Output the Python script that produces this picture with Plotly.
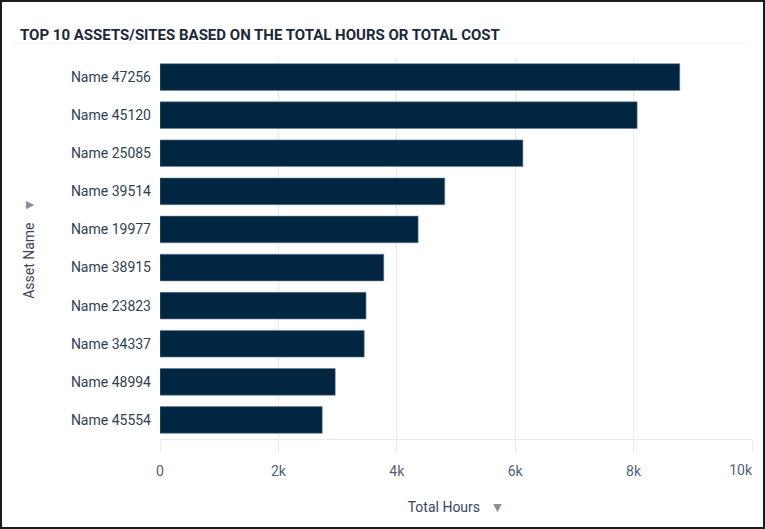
import plotly.graph_objects as go

# Data (top asset first)
asset_names = [
    "Name 47256",
    "Name 45120",
    "Name 25085",
    "Name 39514",
    "Name 19977",
    "Name 38915",
    "Name 23823",
    "Name 34337",
    "Name 48994",
    "Name 45554",
]
total_hours = [8780, 8060, 6130, 4810, 4360, 3780, 3480, 3450, 2960, 2740]

x_tick_values = [0, 2000, 4000, 6000, 8000, 10000]
x_tick_labels = ["0", "2k", "4k", "6k", "8k", "10k"]

TITLE = "TOP 10 ASSETS/SITES BASED ON THE TOTAL HOURS OR TOTAL COST"
BAR_COLOR = "#012641"
GRID_COLOR = "#e6e9ee"
TEXT_COLOR = "#34475a"
TICK_COLOR = "#4f6275"
FONT = "Roboto, Arial, sans-serif"
ARROW = '<span style="color:#8a8f96;font-size:14px">▼</span>'

WIDTH, HEIGHT = 765, 529
MARGIN = dict(l=160, r=13, t=58, b=90)
X_RANGE = [0, 10000]


def top_assets_chart() -> go.Figure:
    """
    Horizontal bar chart of the top 10 assets by total hours.

    Returns:
        Plotly figure object.
    """
    fig = go.Figure(
        go.Bar(
            x=total_hours,
            y=asset_names,
            orientation="h",
            marker=dict(color=BAR_COLOR, line=dict(color="#6d8096", width=0.6)),
            hoverinfo="x+y",
        )
    )

    # Plot area size in px, used to place decorations outside the paper
    pw = WIDTH - MARGIN["l"] - MARGIN["r"]
    ph = HEIGHT - MARGIN["t"] - MARGIN["b"]

    # the last label sits flush with the right edge: it is drawn by an
    # overlaid axis that puts its label to the left of the tick
    main_text = x_tick_labels[:-1] + [""]

    fig.update_layout(
        width=WIDTH,
        height=HEIGHT,
        margin=MARGIN,
        autosize=False,
        paper_bgcolor="white",
        plot_bgcolor="white",
        font=dict(family=FONT, size=14, color=TEXT_COLOR),
        bargap=0.3,
        showlegend=False,
        title=dict(
            text=f"<b>{TITLE}</b>",
            x=20 / WIDTH,
            xanchor="left",
            y=1 - 35 / HEIGHT,
            yanchor="middle",
            font=dict(family=FONT, size=15, color="#1b2838"),
        ),
        xaxis=dict(
            range=X_RANGE,
            tickvals=x_tick_values,
            ticktext=main_text,
            automargin=False,
            showgrid=True,
            gridcolor=GRID_COLOR,
            gridwidth=1,
            zeroline=False,
            showline=True,
            linecolor=GRID_COLOR,
            ticks="outside",
            ticklen=12,
            tickcolor=GRID_COLOR,
            ticklabelstandoff=7,
            tickfont=dict(size=14, color=TICK_COLOR),
            title=dict(
                text=f"Total Hours   {ARROW}",
                font=dict(size=14, color=TEXT_COLOR),
                standoff=24,
            ),
            fixedrange=True,
        ),
        xaxis2=dict(
            overlaying="x",
            anchor="y",
            side="bottom",
            range=X_RANGE,
            tickvals=x_tick_values[-1:],
            ticktext=x_tick_labels[-1:],
            ticklabelposition="outside left",
            automargin=False,
            showgrid=False,
            zeroline=False,
            showline=False,
            ticks="",
            ticklabelstandoff=21,
            tickfont=dict(size=14, color=TICK_COLOR),
            fixedrange=True,
        ),
        yaxis=dict(
            autorange="reversed",
            automargin=False,
            showgrid=False,
            zeroline=False,
            showline=False,
            ticks="",
            ticklabelstandoff=8,
            tickfont=dict(size=14, color="#2e3f52"),
            title=dict(
                text=f"Asset Name   {ARROW}",
                font=dict(size=14, color=TEXT_COLOR),
                standoff=32,
            ),
            fixedrange=True,
        ),
        shapes=[
            # separator under the title
            dict(
                type="line",
                xref="paper",
                yref="paper",
                x0=-147 / pw,
                x1=1 - 2 / pw,
                y0=1 + 15 / ph,
                y1=1 + 15 / ph,
                line=dict(color="#eef0f3", width=1),
            ),
            # frame around the whole card
            dict(
                type="rect",
                xref="paper",
                yref="paper",
                x0=-(MARGIN["l"] - 1) / pw,
                x1=1 + (MARGIN["r"] - 1) / pw,
                y0=-(MARGIN["b"] - 1) / ph,
                y1=1 + (MARGIN["t"] - 1) / ph,
                line=dict(color="#1c1c1c", width=2),
            ),
        ],
    )

    # empty trace so the overlaid axis gets drawn
    fig.add_trace(
        go.Scatter(x=[], y=[], xaxis="x2", yaxis="y", hoverinfo="skip")
    )

    return fig


fig = top_assets_chart()
# drop the default body margin so the card fills the window exactly
fig.write_html(
    "out.html",
    config={"displayModeBar": False},
    post_script="document.body.style.margin='0';",
)
